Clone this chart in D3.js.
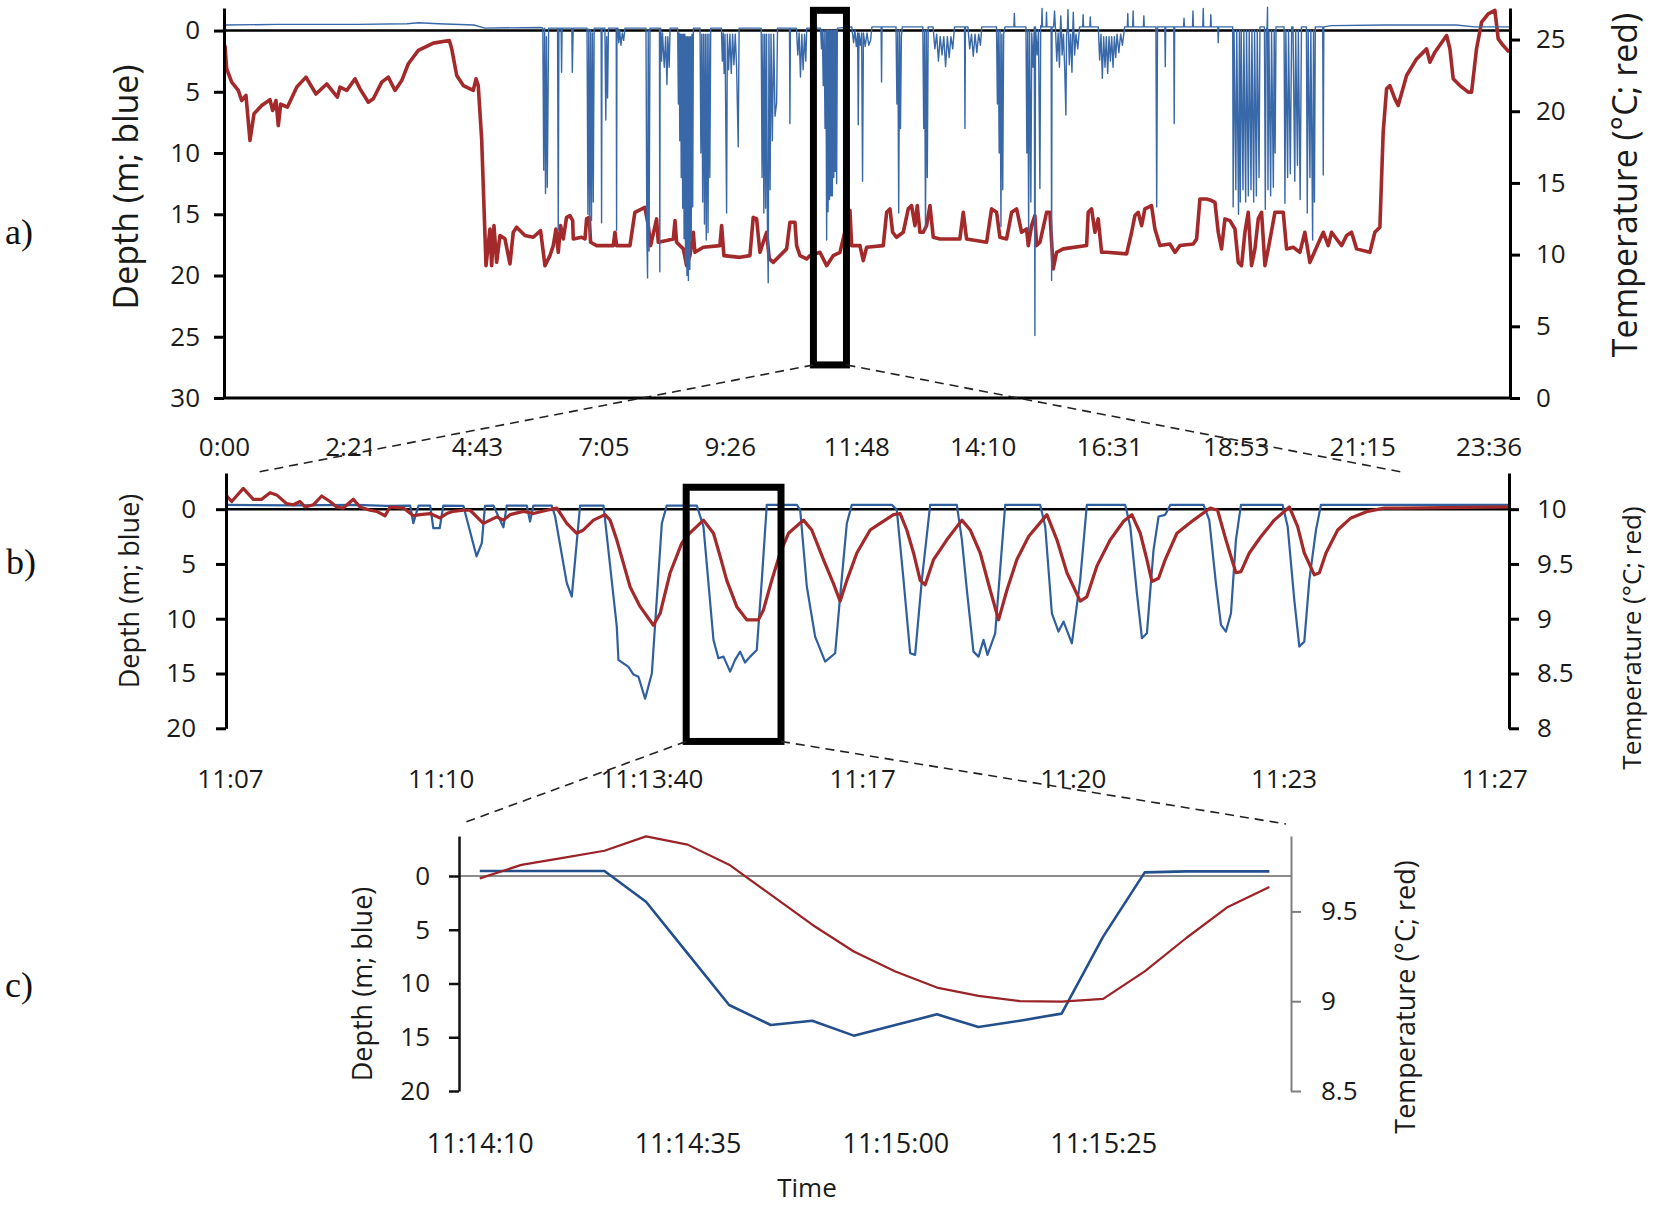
<!DOCTYPE html>
<html lang="en">
<head>
<meta charset="UTF-8">
<title>Dive depth and temperature</title>
<script src="https://d3js.org/d3.v7.min.js"></script>
<style>
  body { margin: 0; background: #fff; }
  svg { display: block; }
</style>
</head>
<body>

<svg width="1654" height="1205"></svg>

<script>

// ---------- data ----------
// a) whole day, time in minutes after 0:00
var ticksA = [0, 141.6, 283.2, 424.8, 566.4, 708, 849.6, 991.2, 1132.8, 1274.4, 1416];
var labelsA = ["0:00", "2:21", "4:43", "7:05", "9:26", "11:48", "14:10", "16:31", "18:53", "21:15", "23:36"];

var depthA = [
  [0,-0.45],[60,-0.5],[150,-0.5],[205,-0.55],[218,-0.64],[240,-0.55],[280,-0.45],[292,-0.2],[355,-0.25],
  [357,-0.2],[358,11.4],[359,-0.2],[360,13.3],[361,0.5],[362,12.8],[363.5,-0.2],
  [373.5,-0.2],[374.3,16.3],[375,-0.2],
  [377.5,-0.2],[378,3.4],[378.6,-0.2],
  [389.5,-0.2],[390,3.4],[391,-0.2],
  [406.5,-0.2],[407.5,15],[408.5,-0.1],[409.5,16.8],[410.5,0],[411.5,15.5],[412.5,0.2],[413.5,14],[414.5,-0.2],
  [422.3,-0.2],[422.8,15.7],[423.3,-0.2],
  [426.5,-0.2],[427.5,7.3],[428.5,0.5],[429.5,5.5],[430.5,-0.2],
  [439.2,-0.2],[439.6,16.3],[440,-0.2],
  [441,-0.2],[442,1],[443,0],[444.5,1.2],[446,0.2],[447.5,0.8],[449,-0.2],
  [472.5,-0.2],[473.5,17],[474.3,20.2],[475,0],[476,18],[477,-0.2],
  [487.6,-0.2],[488,19.7],[488.4,-0.2],
  [489,-0.2],[490,2.5],[491,0.2],[493,3],[494.5,0.5],[496,4.4],[497,0.5],[498.5,3],[499.5,-0.2],
  [508,-0.2],[508.8,6],[509.6,0.2],[510.4,9],[511.2,0.3],[512,12],[512.8,0.3],[513.6,14.5],[514.4,0.3],
  [515.2,17],[516,0.3],[516.8,19],[517.6,0.5],[518.4,20],[519.2,0.5],[520,20.4],[520.8,0.5],[521.6,19.5],
  [522.4,0.5],[523.2,17],[524,0.3],[524.8,14.4],[525.6,-0.2],
  [533,-0.2],[534,10],[535,0.3],[536,14],[537,0.3],[538,15.8],[539,0.3],[540,17.1],[541,0.3],[542,16.5],[543,0.3],[544,12],[545,-0.2],
  [557,-0.2],[558,2.5],[559,0.2],[560,3.5],[561,0.3],[562.8,14.9],[563.6,0.3],[565,3.2],[566.5,0.3],[568,3.5],
  [569.5,0.3],[571,2.8],[572.5,0.3],[574,3],[575.8,9.5],[576.8,-0.2],
  [601.5,-0.2],[602.5,12],[603.5,0.3],[604.5,14.9],[605.5,0.3],[606.5,14.5],[607.5,0.3],[608.5,16],[609.4,20.6],
  [610.2,0.3],[611.5,13],[612.5,0.3],[614,9],[615.5,0.3],[617,7],[618.8,5.9],[619.8,-0.2],
  [633.2,-0.2],[633.7,7.6],[634.2,-0.2],
  [641,-0.2],[642.5,2],[644,0.2],[645.5,3.8],[647,0.3],[648.5,3.2],[650,0.3],[651.5,2.5],[652.5,-0.2],
  [668,-0.2],[669,1.5],[670,0],[671,4.5],[672,0],[673,8],[674,0],[674.8,17.1],[675.6,0],[676.4,14.8],[677.2,0],
  [678,13.8],[678.8,0],[679.6,13.5],[680.4,0],[681.2,13.5],[682,0],[682.8,12],[683.6,0],[684.4,11.5],[685.2,0],
  [686,12.5],[686.8,-0.2],
  [703,-0.3],[705,1],[706.5,0],[708,1.3],[709.5,0.2],[710.2,7.7],[711,0.2],[712.5,1.2],[714,0.2],[715,12.3],
  [716,0.2],[718,1.3],[720,0.2],[722,1.2],[724,0.8],[725.5,-0.3],
  [735.8,-0.3],[736.3,4.2],[736.8,-0.3],
  [752.5,-0.3],[753.5,6],[754.5,0],[755.5,14.9],[756.5,0],[757.5,8],[758.5,0.5],[759.5,-0.3],
  [782.5,-0.3],[783.5,8],[784.5,0],[785.5,16.3],[786.5,0],[787.5,12],[788.5,-0.3],
  [794,-0.3],[796,1.5],[798,0.3],[800,2.5],[802,0.5],[804,2],[806,0.5],[808,2.95],[810,0.5],[812,2.2],[814,0.5],[816,1.5],[818,-0.3],
  [829.2,-0.3],[829.7,8],[830.2,-0.3],
  [833,-0.3],[835,1.5],[837,0.3],[839,2.1],[841,0.3],[843,1.8],[845,0.3],[847,1.2],[848.5,-0.3],
  [865,-0.3],[866,6],[867,0],[868,10],[869,0],[870,16],[871,0.3],[872,13],[873,0.3],[874.5,-0.3],
  [884.5,-0.3],[885,-1.4],[885.5,-0.3],
  [898,-0.3],[899,10],[900,0],[901,16.3],[902,0],[903.5,14],[904.5,0.2],[906,3],[907.3,-0.3],[908,24.9],[908.7,-0.3],
  [910.5,2],[912,0],[913.6,12.9],[914.5,-0.4],[915.5,-0.3],[916,-1.8],[916.5,-0.3],
  [920.5,-0.3],[921,-1.5],[921.5,-0.3],
  [926.2,-0.3],[926.7,20.4],[927.2,-0.3],
  [929,-0.3],[930,-1.6],[931,-0.2],[932.5,2.5],[934,0.2],[935.5,3],[936.5,-0.3],[937,-1.2],[937.5,-0.3],[938.5,2],
  [940,0.3],[941.5,3.4],[942.7,6.9],[943.5,0.3],[944.5,-0.3],[945,-1.7],[945.5,-0.3],[946.5,2.8],[948,0.3],[949.5,3.4],
  [950.5,-0.3],[951,-1.5],[951.5,-0.3],[952.5,2],[954,0.3],[956,1.5],[958,-0.3],
  [961.5,-0.3],[962,-1.3],[962.5,-0.3],[969.5,-0.3],[970,-1.1],[970.5,-0.3],
  [979,-0.3],[980.5,2.4],[982,0.3],[983.5,3.9],[985,0.5],[986.5,3],[988,0.5],[989.5,3.5],[991,0.5],[992.5,2.5],
  [994,0.5],[995.5,3],[997,0.5],[998.5,2.2],[1000,0.3],[1002,1.8],[1004,0.3],[1006,1.2],[1008.5,-0.3],
  [1011.5,-0.3],[1012,-1.4],[1012.5,-0.3],[1017.5,-0.3],[1018,-1.6],[1018.5,-0.3],
  [1029.5,-0.3],[1030,-1.2],[1030.5,-0.3],
  [1043.5,-0.3],[1044.4,14.4],[1045.3,-0.3],
  [1053.5,-0.3],[1054,2.95],[1054.5,-0.3],[1063.5,-0.3],[1064,7.6],[1064.5,-0.3],
  [1074.5,-0.3],[1075,-1.0],[1075.5,-0.3],
  [1084.5,-0.3],[1085,-1.6],[1085.5,-0.3],[1096,-0.3],[1096.5,-1.8],[1097,-0.3],
  [1104.5,-0.3],[1105,-1.3],[1105.5,-0.3],
  [1112.8,-0.3],[1113.3,1],[1113.8,-0.3],
  [1129.5,-0.3],[1130,14.4],[1131,0],[1133,13],[1134,0],[1136,15],[1137,0],[1138,14],[1139,0],[1141,13],[1142,0],
  [1144,14],[1145,0],[1147,13.5],[1148,0],[1150,13],[1151,0],[1153,14],[1154,0],[1156,13.5],[1157,0],[1159,12],[1160,-0.3],
  [1165,-0.3],[1166,14.6],[1167,0],[1168,-0.3],[1168.5,-1.9],[1169,13],[1170,0],[1172,13.5],[1173,0],[1175,12.8],[1176,0],[1177,10],[1178,-0.3],
  [1187,-0.3],[1188,14.1],[1189,0],[1191,12],[1192,0],[1194,11.7],[1195.5,-0.3],
  [1197,-0.3],[1199,12.3],[1200,0],[1202,11],[1203,0],[1205,13.8],[1206.5,-0.3],
  [1212,-0.3],[1213,14.9],[1214,0],[1216,12],[1217,0],[1219,17.1],[1220,0],[1221,14],[1222,-0.3],
  [1230.3,-0.3],[1230.9,11.8],[1231.5,-0.3],
  [1240,-0.4],[1300,-0.45],[1380,-0.45],[1400,-0.3],[1440,-0.3]
];

var tempA = [
  [1.1,24.6],[3,22.96],[8.6,22.03],[16,21.45],[19.8,20.75],[24.6,21.1],[29.1,17.96],[33.6,19.82],[42.2,20.4],
  [51.5,20.8],[54.5,20.05],[58.2,20.75],[60.8,19.0],[63.5,20.5],[70.9,20.28],[81.4,21.68],[91.8,22.38],[96.3,21.9],
  [103,21.2],[115,21.9],[126.9,20.98],[129.9,21.68],[137.4,21.45],[146.7,22.26],[152.3,21.56],[161.6,20.63],
  [167.2,20.87],[176.6,22.03],[184,22.38],[191.5,21.45],[199,22.14],[206.4,23.31],[217.6,24.24],[234.4,24.75],
  [252.3,24.93],[255,24.35],[260.6,22.49],[268,21.79],[279.1,21.45],[282.2,22.26],[284.7,21.79],[288.5,18.07],
  [293.4,9.23],[297.8,11.79],[299.7,9.23],[302.3,12.02],[305.3,9.47],[309,11.33],[314.6,11.1],[320.2,9.35],
  [323.9,11.56],[327.7,11.91],[337,11.33],
  [346.3,11.21],[354.5,11.67],[359.4,9.23],[365,9.93],[368.7,10.63],[371.7,11.79],[374.3,10.16],[376.9,12.02],
  [379.9,11.09],[383.6,12.6],[387.4,12.72],[390.4,12.37],[391.1,11.09],[400.4,11.21],[404.2,11.09],[406,12.49],
  [409,12.6],[410.5,10.86],[417.2,10.63],[435.9,10.63],[437.8,11.56],[439.6,10.63],[454.6,10.63],[460.1,12.95],
  [471.3,13.3],[475.1,12.02],[477.7,10.63],[484.4,12.49],[486.3,10.86],[495.6,10.98],[503.1,11.09],[505,12.37],
  [506.8,10.86],[514.3,10.4],[518,9.23],[521.7,9.93],[525.5,11.56],[527.3,10.16],[536.7,10.51],[555.3,10.63],
  [557.2,12.02],[559.8,9.93],[577.7,9.81],[588.9,9.93],[592.6,12.6],[596.4,12.49],[600.1,10.16],[603.8,10.86],
  [607.6,11.56],[610.6,9.7],[615,9.46],[630,10.4],[633.7,12.26],[639.3,12.26],[641.2,10.63],[644.9,9.93],
  [652.4,9.7],[656.1,9.93],[667.3,10.16],[674.8,9.23],[682.2,9.93],[689.7,10.16],
  [700.9,13.07],[702.8,10.63],[712.1,10.63],[715.8,9.58],[719.6,10.51],[738.2,10.63],[742,12.95],[745.7,13.19],
  [748.7,11.56],[753.1,11.21],[760.6,11.56],[766.2,13.19],[769.9,13.42],[773.7,12.02],[776.3,13.42],[779.3,11.56],
  [783,11.56],[786.7,12.02],[790.5,13.42],[794.2,11.21],[801.7,11.09],[824,11.09],[827.8,12.95],[831.5,11.09],
  [853.9,10.86],[859.5,13.19],[865.1,12.95],[868.8,11.21],[876.3,11.09],[881.9,12.95],[887.5,13.19],[893.1,11.56],
  [898.7,11.79],[900.6,10.63],[904.3,12.02],[908,12.72],[909.9,10.63],[913.6,10.86],[921.1,12.95],[924.8,12.95],
  [928.5,9.0],[932.3,10.16],[939.7,10.4],[965.9,10.63],[967.7,12.95],[971.5,13.19],[975.2,11.56],[978.9,12.49],
  [982.7,10.16],[988.3,10.16],[1010.7,10.05],[1016.3,11.56],[1020,12.72],[1023.7,12.95],[1027.5,12.02],
  [1031.2,13.19],[1038.6,13.42],[1042.4,11.79],[1048,10.63],
  [1059.2,10.74],[1064.8,10.16],[1070.4,10.63],[1085.3,10.74],[1089.1,11.09],[1092.8,13.88],[1100.2,13.88],
  [1105.8,13.77],[1109.6,13.65],[1113.3,11.56],[1117,10.4],[1120.8,12.49],[1126.4,12.37],[1132,11.79],[1135.7,9.46],
  [1139.4,9.23],[1143.2,11.56],[1146.9,12.95],[1150.6,9.23],[1154.4,10.4],[1158.1,12.49],[1161.8,12.95],
  [1165.6,9.23],[1169.3,10.4],[1176.8,12.95],[1186.1,12.95],[1189.8,10.4],[1197.3,10.51],[1204.7,10.16],
  [1210.3,11.56],[1215.9,9.46],[1223.4,10.51],[1230.9,11.56],[1236.5,10.63],[1240.2,11.56],[1245.8,11.09],
  [1251.4,10.63],[1257,11.33],[1262.6,11.56],[1268.2,10.4],[1283.1,10.16],[1288.7,11.56],[1294.3,11.91],
  [1298,18.54],[1301.8,21.56],[1305.5,21.79],[1311.1,20.86],[1314.8,20.4],[1324.2,22.49],[1335.4,23.65],
  [1346.6,24.35],[1350.3,23.42],[1355.9,24.12],[1369,25.28],[1372.7,24.35],[1376.4,22.26],[1383.9,21.79],
  [1393.2,21.33],[1397,21.33],[1402.5,24.35],[1408.2,26.21],[1415.6,26.79],[1423.1,27.03],[1426.8,25.05],
  [1432.4,24.58],[1439.1,24.12]
];

// b) 11:07 - 11:27, time in seconds after 11:07:00
var ticksB = [0, 200, 400, 600, 800, 1000, 1200];
var labelsB = ["11:07", "11:10", "11:13:40", "11:17", "11:20", "11:23", "11:27"];

var depthB = [
  [-3,-0.39],[60,-0.35],[120,-0.39],[148,-0.3],[171,-0.33],[174,1.28],[179,-0.33],[190,-0.33],[193,1.74],[199,1.74],
  [202.5,-0.33],[221.5,-0.3],[234,4.3],[239,3.1],[242,-0.3],[250,-0.33],[259.5,1.65],[262.7,-0.33],[281.7,-0.33],
  [284.8,1.13],[288,-0.33],[305.4,-0.33],[308.6,0.67],[319.7,6.76],[324.4,7.98],[332.3,-0.33],[354.5,-0.33],
  [367.1,10.7],[368.7,13.76],[378.2,14.4],[383,15.1],[387.7,15.3],[394,17.3],[400.4,15],[409.9,1.28],[414.6,-0.33],
  [443.1,-0.33],[449.4,1.6],[458.9,11.93],[463.6,13.61],[468.4,13.46],[474.7,14.83],[479.4,13.76],[484.2,13.0],
  [488.9,14.0],[493.7,13.46],[500,12.85],[504.8,6.45],[509.5,-0.39],[538,-0.39],[541.2,0.06],[547.5,7.06],
  [555.4,11.63],[564.9,13.91],[574.4,13.15],[579.1,7.98],[585.5,1.28],[590.2,-0.39],[628.2,-0.39],[632.9,0.06],
  [639.3,6.45],[645.6,13.15],[650.3,13.3],[656.7,6.45],[664.6,-0.39],[689.9,-0.39],[694.7,2.8],[699.4,7.37],
  [705.7,13.0],[710.5,13.46],[715.2,11.93],[719,13.3],[726.3,11.33],[735.8,-0.39],[769,-0.39],[773.8,1.58],
  [780.1,9.5],[786.4,11.17],[791.2,10.26],[799.1,12.24],[807,6.45],[813.3,-0.39],[849.7,-0.39],[854.5,1.58],
  [860.8,7.67],[865.6,11.78],[870.3,11.33],[876.6,3.72],[881.4,0.67],[887.7,0.52],[892.5,-0.39],[924.1,-0.39],
  [929.5,1.0],[935.8,6.76],[940.6,10.56],[945.3,11.17],[950.1,9.5],[954.8,2.8],[959.6,-0.39],[999.1,-0.39],
  [1003.9,1.58],[1010.2,8.28],[1015,12.54],[1019.7,12.09],[1024.5,6.45],[1030.8,1.89],[1035.5,-0.39],[1214,-0.39]
];

var tempB = [
  [-3,10.12],[1.6,10.07],[12.6,10.19],[22.1,10.09],[30.1,10.09],[38,10.15],[44.3,10.13],[53.8,10.05],[60.1,10.04],
  [66.5,10.07],[71.2,10.02],[79.1,10.04],[87,10.12],[94.9,10.07],[101.3,10.02],[107.6,10.01],[117.1,10.09],
  [123.4,10.02],[132.9,9.99],[139.2,9.98],[147.2,9.94],[151.9,10.02],[164.6,10.01],[174.1,9.94],[180.4,9.95],
  [189.9,9.96],[199.4,9.92],[205.7,9.96],[212,9.98],[221.5,9.99],[227.9,9.99],[240.5,9.87],[246.9,9.9],
  [253.2,9.93],[259.5,9.9],[265.8,9.95],[278.5,9.98],[288,9.96],[300.7,9.99],[310.2,10.01],[319.7,9.87],
  [329.1,9.78],[335.5,9.81],[345,9.9],[356,9.95],[360.8,9.9],[367.1,9.72],[379.8,9.29],[389.3,9.11],[401.9,8.94],
  [408.3,9.05],[417.8,9.42],[428.8,9.69],[435.2,9.77],[449.4,9.9],[458.9,9.78],[465.2,9.57],
  [471.5,9.35],[481,9.11],[490.5,8.99],[501.6,8.99],[506.3,9.08],[514.2,9.35],[522.2,9.6],[530.1,9.78],[544.3,9.9],
  [552.2,9.81],[563.3,9.54],[572.8,9.32],[579.1,9.16],[585.5,9.35],[595,9.6],[607.6,9.81],[617.1,9.87],
  [629.8,9.95],[636.1,9.96],[642.4,9.81],[648.8,9.6],[655.1,9.35],[659.8,9.31],[667.8,9.54],[680.4,9.72],
  [694.7,9.9],[702.6,9.81],[712.1,9.6],[721.6,9.26],[729.5,8.99],[737.4,9.26],[746.9,9.54],[758,9.75],
  [775.4,9.95],[784.9,9.72],[794.4,9.42],[807,9.16],[813.3,9.2],[822.8,9.48],[835.5,9.72],[848.2,9.89],
  [856,9.95],[864,9.78],[870.3,9.54],[875,9.34],[881.4,9.37],[887.7,9.54],[898.8,9.78],[914.6,9.9],
  [930.4,10.01],[937.4,9.99],[945.3,9.72],[954.8,9.42],[959.6,9.43],[967.5,9.6],[978.6,9.75],[991.2,9.9],
  [1005.5,10.02],[1013.4,9.84],[1019.7,9.6],[1029.2,9.4],[1034,9.42],[1040.3,9.6],[1051.4,9.81],[1064,9.92],
  [1079.9,9.98],[1095.7,10.01],[1111.5,10.01],[1214,10.02]
];

// c) one dive, time in seconds after 11:14:10
var ticksC = [0, 25, 50, 75];
var labelsC = ["11:14:10", "11:14:35", "11:15:00", "11:15:25"];

var depthC = [
  [0,-0.47],[5,-0.47],[10,-0.47],[15,-0.47],[20,2.4],[25,7.2],[30,12.0],[35,13.86],[40,13.46],[45,14.85],
  [50,13.86],[55,12.87],[60,14.05],[65,13.46],[70,12.8],[75,5.64],[80,-0.34],[85,-0.43],[90,-0.43],[95,-0.43]
];
var tempC = [
  [0,9.684],[5,9.759],[10,9.798],[15,9.838],[20,9.918],[25,9.872],[30,9.76],[35,9.593],[40,9.426],[45,9.277],
  [50,9.166],[55,9.076],[60,9.03],[65,9.0],[70,8.998],[75,9.013],[80,9.166],[85,9.352],[90,9.525],[95,9.636]
];

// zoom boxes
var boxA = { t0: 660, t1: 697, d0: -1.65, d1: 27.3 };   // minutes / depth, panel a
var boxB = { t0: 433, t1: 523, d0: -2.0, d1: 21.2 };    // seconds / depth, panel b


// ---------- drawing ----------
var FONT = "'Open Sans', 'DejaVu Sans', sans-serif";
var SERIF = "'Liberation Serif', 'DejaVu Serif', serif";
var svg = d3.select("svg");

function styleAxis(g, size, color, width) {
  g.attr("font-family", FONT).attr("font-size", size);
  g.select(".domain").attr("stroke", color).attr("stroke-width", width);
  g.selectAll(".tick line").attr("stroke", color).attr("stroke-width", width);
  g.selectAll(".tick text").attr("fill", "#1a1a1a");
}

function yLabel(x, y, size, txt) {
  svg.append("text")
    .attr("transform", "translate(" + x + "," + y + ") rotate(-90)")
    .attr("text-anchor", "middle")
    .attr("dy", "0.35em")
    .attr("font-family", FONT)
    .attr("font-size", size)
    .attr("fill", "#1a1a1a")
    .text(txt);
}

function panelLetter(x, y, txt) {
  svg.append("text")
    .attr("x", x).attr("y", y)
    .attr("font-family", SERIF)
    .attr("font-size", 36)
    .attr("fill", "#111")
    .text(txt);
}

function timeLabels(scale, ticks, labels, y, size) {
  var g = svg.append("g")
    .attr("transform", "translate(0," + y + ")")
    .call(d3.axisBottom(scale).tickValues(ticks)
      .tickFormat(function(d, i) { return labels[i]; })
      .tickSize(0).tickPadding(0));
  g.select(".domain").remove();
  g.attr("font-family", FONT).attr("font-size", size);
  g.selectAll("text").attr("fill", "#1a1a1a");
}

function drawLine(data, x, y, color, width) {
  svg.append("path")
    .datum(data)
    .attr("fill", "none")
    .attr("stroke", color)
    .attr("stroke-width", width)
    .attr("stroke-linejoin", "round")
    .attr("d", d3.line()
      .x(function(d) { return x(d[0]); })
      .y(function(d) { return y(d[1]); }));
}

var fmt = function(d) { return String(d); };

// ===== panel a =====
var xA = d3.scaleLinear().domain([0, 1440]).range([224, 1510]);
var dA = d3.scaleLinear().domain([-1.84, 30]).range([8, 398]);
var tA = d3.scaleLinear().domain([0, 27.2]).range([398, 8]);

// bottom line at 30 m
svg.append("line")
  .attr("x1", xA(0)).attr("x2", xA(1440))
  .attr("y1", dA(30)).attr("y2", dA(30))
  .attr("stroke", "#000").attr("stroke-width", 3);

// surface line
svg.append("line")
  .attr("x1", xA(0)).attr("x2", xA(1440))
  .attr("y1", dA(0)).attr("y2", dA(0))
  .attr("stroke", "#000").attr("stroke-width", 2.5);

drawLine(tempA, xA, tA, "#a3292a", 3.6);
drawLine(depthA, xA, dA, "#3868a8", 1.4);

svg.append("g")
  .attr("transform", "translate(" + xA(0) + ",0)")
  .call(d3.axisLeft(dA).tickValues([0, 5, 10, 15, 20, 25, 30]).tickFormat(fmt)
    .tickSize(10).tickSizeOuter(0).tickPadding(14))
  .call(styleAxis, 26, "#000", 3);

svg.append("g")
  .attr("transform", "translate(" + xA(1440) + ",0)")
  .call(d3.axisRight(tA).tickValues([0, 5, 10, 15, 20, 25]).tickFormat(fmt)
    .tickSize(10).tickSizeOuter(0).tickPadding(16))
  .call(styleAxis, 26, "#000", 3);

timeLabels(xA, ticksA, labelsA, 438, 26);
yLabel(126, 187, 34, "Depth (m; blue)");
yLabel(1625, 185, 34, "Temperature (°C; red)");
panelLetter(5, 244, "a)");

// ===== panel b =====
var xB = d3.scaleLinear().domain([-3.8, 1214]).range([226, 1509]);
var dB = d3.scaleLinear().domain([-3.3, 20]).range([473, 728.3]);
var tB = d3.scaleLinear().domain([8, 10.33]).range([728.3, 473]);

svg.append("line")
  .attr("x1", xB.range()[0]).attr("x2", xB.range()[1])
  .attr("y1", dB(0)).attr("y2", dB(0))
  .attr("stroke", "#000").attr("stroke-width", 2.5);

drawLine(depthB, xB, dB, "#2f5f9e", 2.2);
drawLine(tempB, xB, tB, "#a3292a", 3.2);

svg.append("g")
  .attr("transform", "translate(" + xB.range()[0] + ",0)")
  .call(d3.axisLeft(dB).tickValues([0, 5, 10, 15, 20]).tickFormat(fmt)
    .tickSize(10).tickSizeOuter(0).tickPadding(20))
  .call(styleAxis, 26, "#000", 3);

svg.append("g")
  .attr("transform", "translate(" + xB.range()[1] + ",0)")
  .call(d3.axisRight(tB).tickValues([8, 8.5, 9, 9.5, 10]).tickFormat(fmt)
    .tickSize(10).tickSizeOuter(0).tickPadding(18))
  .call(styleAxis, 26, "#000", 3);

timeLabels(xB, ticksB, labelsB, 769.5, 26);
yLabel(130, 591, 27, "Depth (m; blue)");
yLabel(1632, 638, 26, "Temperature (°C; red)");
panelLetter(6, 574, "b)");

// ===== panel c =====
var xC = d3.scaleLinear().domain([-2.5, 97.6]).range([459, 1291]);
var dC = d3.scaleLinear().domain([-3.72, 20]).range([836, 1091]);
var tC = d3.scaleLinear().domain([8.5, 9.92]).range([1091, 836]);

svg.append("line")
  .attr("x1", xC.range()[0]).attr("x2", xC.range()[1])
  .attr("y1", dC(0)).attr("y2", dC(0))
  .attr("stroke", "#8c8c8c").attr("stroke-width", 2.2);

drawLine(depthC, xC, dC, "#234f8c", 2.6);
drawLine(tempC, xC, tC, "#9b2226", 2.2);

svg.append("g")
  .attr("transform", "translate(" + xC.range()[0] + ",0)")
  .call(d3.axisLeft(dC).tickValues([0, 5, 10, 15, 20]).tickFormat(fmt)
    .tickSize(10).tickSizeOuter(0).tickPadding(19))
  .call(styleAxis, 26, "#111", 2.5);

svg.append("g")
  .attr("transform", "translate(" + xC.range()[1] + ",0)")
  .call(d3.axisRight(tC).tickValues([8.5, 9, 9.5]).tickFormat(fmt)
    .tickSize(10).tickSizeOuter(0).tickPadding(20))
  .call(styleAxis, 26, "#7f7f7f", 2);

timeLabels(xC, ticksC, labelsC, 1134, 27);
yLabel(363, 984, 27, "Depth (m; blue)");
yLabel(1406, 997, 27, "Temperature (°C; red)");
panelLetter(5, 997, "c)");

svg.append("text")
  .attr("x", 807).attr("y", 1197)
  .attr("text-anchor", "middle")
  .attr("font-family", FONT)
  .attr("font-size", 26)
  .attr("fill", "#1a1a1a")
  .text("Time");

// ===== zoom boxes and connectors =====
svg.append("rect")
  .attr("x", xA(boxA.t0)).attr("y", dA(boxA.d0))
  .attr("width", xA(boxA.t1) - xA(boxA.t0))
  .attr("height", dA(boxA.d1) - dA(boxA.d0))
  .attr("fill", "none").attr("stroke", "#000").attr("stroke-width", 7);

svg.append("rect")
  .attr("x", xB(boxB.t0)).attr("y", dB(boxB.d0))
  .attr("width", xB(boxB.t1) - xB(boxB.t0))
  .attr("height", dB(boxB.d1) - dB(boxB.d0))
  .attr("fill", "none").attr("stroke", "#000").attr("stroke-width", 7);

var connectors = [
  [xA(boxA.t0), dA(boxA.d1), xB(27), dB.range()[0] - 1],
  [xA(boxA.t1), dA(boxA.d1), xB(1112), dB.range()[0] - 1],
  [xB(boxB.t0), dB(boxB.d1), xC(-2), dC.range()[0] - 13],
  [xB(boxB.t1), dB(boxB.d1), xC(97), dC.range()[0] - 12]
];

svg.selectAll(".connector")
  .data(connectors)
  .enter()
  .append("line")
  .attr("class", "connector")
  .attr("x1", function(d) { return d[0]; })
  .attr("y1", function(d) { return d[1]; })
  .attr("x2", function(d) { return d[2]; })
  .attr("y2", function(d) { return d[3]; })
  .attr("stroke", "#222")
  .attr("stroke-width", 1.6)
  .attr("stroke-dasharray", "9,6");

</script>

</body>
</html>
